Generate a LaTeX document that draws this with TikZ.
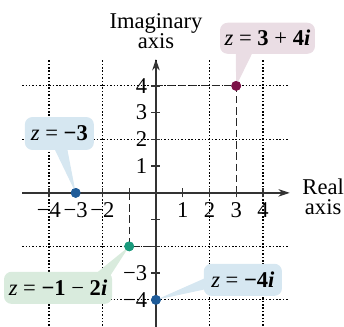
\documentclass[tikz,border=0pt]{standalone}
\usepackage{fontspec}
\setmainfont{Liberation Serif}
\usetikzlibrary{arrows.meta,calc}
\definecolor{pinkbg}{HTML}{EADDE4}
\definecolor{bluebg}{HTML}{D6E7F1}
\definecolor{greenbg}{HTML}{D9EBDD}
\definecolor{maroonpt}{HTML}{7D1248}
\definecolor{bluept}{HTML}{1F5C99}
\definecolor{tealpt}{HTML}{1A9A7C}
\definecolor{axiscol}{HTML}{333333}
\begin{document}
\begin{tikzpicture}[x=0.5cm,y=0.5cm,font=\fontsize{12}{11}\selectfont,
  gridline/.style={draw=black,line width=0.6pt,dash pattern=on 0.8pt off 1.0pt},
  axisline/.style={draw=axiscol,line width=0.7pt},
  guide/.style={draw=black!85,line width=0.6pt,dash pattern=on 4pt off 2pt},
  tickmark/.style={draw=axiscol,line width=0.7pt},
  callout/.style={rounded corners=4pt,inner sep=0pt,text=black},
  dotpt/.style={circle,fill=#1,inner sep=0pt,minimum size=5.2pt},
  ticklab/.style={inner sep=0.5pt}]
\useasboundingbox (-5.83,-5.0) rectangle (7.03,7.21);
% grid
\draw[gridline] (-5,-4.97) grid (4.98,5);
% points (coordinates)
\node[dotpt=maroonpt] (p1) at (3,4) {};
\node[dotpt=bluept] (p2) at (-3,0) {};
\node[dotpt=tealpt] (p3) at (-1,-2) {};
\node[dotpt=bluept] (p4) at (0,-4) {};
\coordinate (o) at (0,0);
\coordinate (y4) at (0,4);
\coordinate (x3) at (3,0);
\coordinate (xm1) at (-1,0);
\coordinate (ym2) at (0,-2);
% dashed guides
\draw[guide] (y4) -- (p1.center) -- (x3);
\draw[guide] (xm1) -- (p3.center) -- (ym2);
% axes
\coordinate (xl) at (-5,0);
\coordinate (xr) at (5,0);
\coordinate (yb) at (0,-5);
\coordinate (yt) at (0,5);
\draw[axisline,-{Stealth[length=6pt,width=4pt]}] (xl) -- (xr);
\draw[axisline,-{Stealth[length=6pt,width=4pt]}] (yb) -- (yt);
\foreach \i in {-4,-3,-2,-1,1,2,3,4}{
  \draw[tickmark] (\i,-0.17) -- (\i,0.17);
  \draw[tickmark] (-0.17,\i) -- (0.17,\i);
}
\foreach \i/\t in {-4/−4,-3/−3,-2/−2,1/1,2/2,3/3,4/4}{
  \node[ticklab,anchor=north] (xt\i) at (\i,-0.3) {\t};
}
\foreach \i/\t in {4/4,3/3,2/2,1/1,-3/−3,-4/−4}{
  \node[ticklab,anchor=east] (yt\i) at (-0.28,\i) {\t};
}
% axis titles
\node[align=center] (ylab) at (0,6.05) {Imaginary\\axis};
\node[align=center] (xlab) at (6.25,-0.15) {Real\\axis};
% callout boxes
\node[callout,fill=pinkbg,minimum width=1.775cm,minimum height=0.58cm] (c1) at (4.17,5.78) {\textit{z} = \textbf{3} + \textbf{4\textit{i}}};
\node[callout,fill=bluebg,minimum width=1.29cm,minimum height=0.615cm] (c2) at (-3.61,2.22) {\textit{z} = \textbf{−3}};
\node[callout,fill=greenbg,minimum width=2.02cm,minimum height=0.6cm] (c3) at (-3.66,-3.55) {\textit{z} = \textbf{−1} − \textbf{2\textit{i}}};
\node[callout,fill=bluebg,minimum width=1.46cm,minimum height=0.6cm] (c4) at (3.25,-3.25) {\textit{z} = \textbf{−4\textit{i}}};
% pointers
\fill[pinkbg] ($(c1.south west)+(0.6,0.2)$) -- (p1.center) -- ($(c1.south west)+(1.3,0.2)$) -- cycle;
\fill[bluebg] ($(c2.south west)+(1.05,0.2)$) -- (p2.center) -- ($(c2.south west)+(1.57,0.2)$) -- cycle;
\fill[greenbg] ($(c3.north west)+(3.3,-0.2)$) -- (p3.center) -- ($(c3.north west)+(3.96,-0.2)$) -- cycle;
\fill[bluebg] ($(c4.north west)+(0.2,-0.49)$) -- (p4.center) -- ($(c4.north west)+(0.2,-0.94)$) -- cycle;
% redraw points on top
\node[dotpt=maroonpt] at (p1) {};
\node[dotpt=bluept] at (p2) {};
\node[dotpt=tealpt] at (p3) {};
\node[dotpt=bluept] at (p4) {};
\end{tikzpicture}
\end{document}
